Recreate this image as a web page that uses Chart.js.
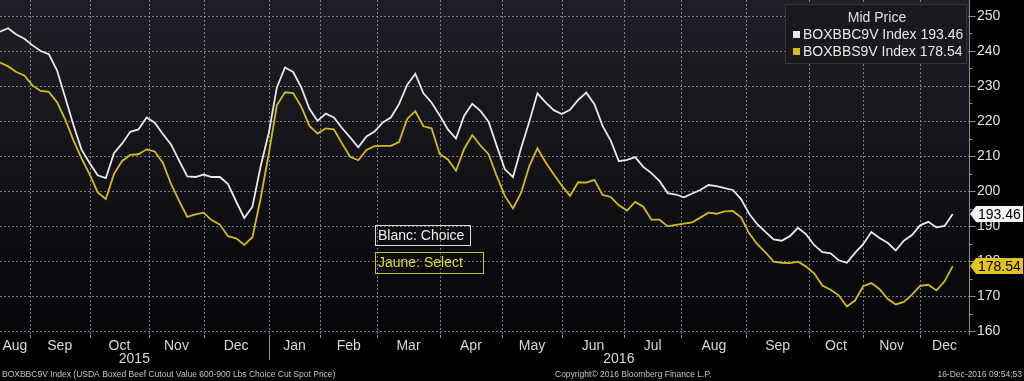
<!DOCTYPE html>
<html>
<head>
<meta charset="utf-8">
<script src="https://cdn.jsdelivr.net/npm/chart.js@4.4.0/dist/chart.umd.min.js"></script>
<style>
html,body{margin:0;padding:0;background:#000;}
canvas{display:block;}
</style>
</head>
<body>
<canvas id="c" width="1024" height="381"></canvas>
<script>
// ---- Data (trading-day index = position * stepDays, starting mid-Aug 2015) ----
const stepDays = 3;
const choiceName = 'BOXBBC9V Index';
const selectName = 'BOXBBS9V Index';
const choiceValues = [
  245.5,246.5,244.7,243.5,241.6,240.0,239.1,234.5,226.8,219.0,
  211.9,208.0,204.5,203.7,210.8,213.6,216.9,217.6,221.0,219.5,
  216.3,213.3,208.7,204.2,204.0,204.7,204.0,204.0,202.0,197.0,
  192.3,195.5,207.0,216.5,229.6,235.3,234.0,229.6,223.5,220.0,
  222.1,221.0,218.0,215.3,212.5,215.6,217.0,219.6,221.0,224.8,
  230.3,233.5,227.9,225.3,221.6,217.6,215.0,221.5,224.9,222.9,
  219.8,212.9,206.2,204.0,212.3,219.8,227.9,225.3,223.1,222.0,
  223.2,226.0,228.1,224.8,218.6,214.4,208.5,208.9,209.7,206.9,
  205.1,202.8,199.4,199.0,198.2,199.3,200.3,201.7,201.4,200.8,
  200.3,197.7,193.5,190.5,188.3,186.2,185.8,187.1,189.5,187.6,
  184.5,182.5,182.2,180.2,179.5,182.3,184.8,188.3,186.6,185.2,
  183.0,185.8,187.4,190.2,191.2,189.6,190.0,193.46
];
const selectValues = [
  236.7,235.6,234.0,233.0,230.1,228.6,228.3,225.4,220.5,214.6,
  209.4,204.8,199.6,197.7,204.9,208.6,210.3,210.5,211.9,211.3,
  208.1,202.0,197.2,192.6,193.3,193.8,191.7,190.4,187.1,186.5,
  184.6,186.8,197.8,210.5,224.5,228.2,228.0,224.1,218.6,216.4,
  217.9,217.6,213.6,209.8,208.8,211.7,212.8,212.9,212.9,214.0,
  220.6,222.8,218.5,217.9,210.6,209.0,205.8,212.0,216.0,213.0,
  210.5,204.3,198.6,195.0,199.5,207.1,212.2,208.2,204.8,201.5,
  198.6,202.5,202.4,203.2,198.9,198.3,195.9,194.4,196.9,195.5,
  191.8,191.8,189.9,190.3,190.7,191.0,192.4,193.8,193.5,194.2,
  194.3,192.5,187.9,184.8,182.5,179.8,179.5,179.4,179.8,178.4,
  176.4,173.0,171.8,170.2,167.0,168.7,172.8,173.7,172.0,169.2,
  167.6,168.3,170.4,172.9,173.2,171.6,174.2,178.54
];
// Month boundaries (trading-day index of the 1st of each month) and labels
const monthBoundaries = [11,33,55,75,99,118,139,162,185,207,230,251,275,298,318,339];
const monthLabels = ['Aug','Sep','Oct','Nov','Dec','Jan','Feb','Mar','Apr','May','Jun','Jul','Aug','Sep','Oct','Nov','Dec'];
const yearLabels = ['2015','2016'];
const xMin = 0, xMax = 357;
const yMin = 158.86, yMax = 254.57;
const yStep = 5, yLabelStep = 10;
const footerLeft = 'BOXBBC9V Index (USDA Boxed Beef Cutout Value 600-900 Lbs Choice Cut Spot Price)';
const footerMid = 'Copyright\u00A9 2016 Bloomberg Finance L.P.';
const footerRight = '16-Dec-2016 09:54:53';
const legendTitle = 'Mid Price';
const noteChoice = 'Blanc: Choice';
const noteSelect = 'Jaune: Select';

// ---- Styles ----
const FONT = "'Liberation Sans', Arial, sans-serif";
const WHITE = '#e8e8e8';
const YELLOW = '#d6b91c';
const GRID = 'rgba(165,165,175,0.7)';
const AXIS = '#8e8e8e';
Chart.defaults.font.family = FONT;

const edges = [xMin, ...monthBoundaries, xMax];
const monthMids = monthLabels.map((_, k) => (edges[k] + edges[k + 1]) / 2);
const labelAt = new Map(monthMids.map((v, k) => [v, monthLabels[k]]));
const boundarySet = new Set(monthBoundaries);
const janBoundary = monthBoundaries[monthLabels.indexOf('Jan') - 1];
const yearEdges = [xMin, janBoundary, xMax];
const allXTicks = [...monthBoundaries, ...monthMids].sort((a, b) => a - b);

const toPoints = arr => arr.map((v, i) => ({x: i * stepDays, y: v}));

const bgPlugin = {
  id: 'bg',
  beforeDraw(chart) {
    const {ctx, chartArea: a} = chart;
    ctx.save();
    ctx.fillStyle = '#000';
    ctx.fillRect(0, 0, chart.width, chart.height);
    const g = ctx.createLinearGradient(0, a.top, 0, a.bottom);
    g.addColorStop(0, '#1f1f27');
    g.addColorStop(1, '#050508');
    ctx.fillStyle = g;
    ctx.fillRect(a.left, a.top, a.right - a.left, a.bottom - a.top);
    ctx.restore();
  }
};

// Grid lines and tick marks, placed from the library's own scale ticks
const gridPlugin = {
  id: 'gridlines',
  beforeDatasetsDraw(chart) {
    const {ctx, chartArea: a, scales: {x, y}} = chart;
    ctx.save();
    ctx.lineWidth = 1;
    ctx.strokeStyle = GRID;
    ctx.setLineDash([2, 2]);
    ctx.beginPath();
    y.ticks.forEach(t => {
      if (Math.round(t.value) % yLabelStep !== 0) return;
      const py = Math.round(y.getPixelForValue(t.value)) + 0.5;
      ctx.moveTo(a.left, py); ctx.lineTo(a.right, py);
    });
    x.ticks.forEach(t => {
      if (!boundarySet.has(t.value)) return;
      const px = Math.round(x.getPixelForValue(t.value)) + 0.5;
      ctx.moveTo(px, a.top); ctx.lineTo(px, a.bottom);
    });
    ctx.stroke();
    ctx.setLineDash([]);
    ctx.strokeStyle = AXIS;
    ctx.beginPath();
    const ax = Math.round(a.right) + 0.5;
    ctx.moveTo(ax, a.top); ctx.lineTo(ax, a.bottom);
    y.ticks.forEach(t => {
      const py = Math.round(y.getPixelForValue(t.value)) + 0.5;
      const len = (Math.round(t.value) % yLabelStep === 0) ? 6 : 3;
      ctx.moveTo(ax, py); ctx.lineTo(ax + len, py);
    });
    x.ticks.forEach(t => {
      if (!boundarySet.has(t.value)) return;
      const px = Math.round(x.getPixelForValue(t.value)) + 0.5;
      ctx.moveTo(px, a.bottom); ctx.lineTo(px, a.bottom + 3);
    });
    ctx.stroke();
    ctx.restore();
  }
};

function tag(ctx, x0, yc, w, color, text) {
  ctx.beginPath();
  ctx.moveTo(x0, yc);
  ctx.lineTo(x0 + 6, yc - 8);
  ctx.lineTo(x0 + w, yc - 8);
  ctx.lineTo(x0 + w, yc + 8);
  ctx.lineTo(x0 + 6, yc + 8);
  ctx.closePath();
  ctx.fillStyle = color;
  ctx.fill();
  ctx.fillStyle = '#000';
  ctx.font = '14px ' + FONT;
  ctx.textAlign = 'left';
  ctx.textBaseline = 'middle';
  ctx.fillText(text, x0 + 8, yc + 1);
}

const overlayPlugin = {
  id: 'overlay',
  afterDraw(chart) {
    const {ctx, chartArea: a, scales: {x, y}} = chart;
    ctx.save();
    // Year boundary line
    const xb = Math.round(x.getPixelForValue(janBoundary)) + 0.5;
    ctx.strokeStyle = AXIS;
    ctx.lineWidth = 1;
    ctx.beginPath();
    ctx.moveTo(xb, a.bottom);
    ctx.lineTo(xb, a.bottom + 25);
    ctx.stroke();
    // Year labels
    ctx.fillStyle = '#d8d8d8';
    ctx.font = '14px ' + FONT;
    ctx.textAlign = 'center';
    ctx.textBaseline = 'middle';
    yearLabels.forEach((t, k) => {
      const cx = (x.getPixelForValue(yearEdges[k]) + x.getPixelForValue(yearEdges[k + 1])) / 2;
      ctx.fillText(t, cx, a.bottom + 24);
    });
    // Footer
    ctx.font = '8.5px ' + FONT;
    ctx.fillStyle = '#c4c4c4';
    ctx.textAlign = 'left';
    ctx.fillText(footerLeft, 2, 375);
    ctx.fillText(footerMid, 555, 375);
    ctx.textAlign = 'right';
    ctx.fillText(footerRight, 1022, 375);

    // Legend box
    ctx.fillStyle = 'rgba(24,24,29,0.96)';
    ctx.fillRect(785, 4, a.right - 787, 60);
    ctx.strokeStyle = 'rgba(60,60,68,0.8)';
    ctx.strokeRect(785.5, 4.5, a.right - 788, 59);
    ctx.font = '14px ' + FONT;
    ctx.fillStyle = '#e0e0e0';
    ctx.textAlign = 'center';
    ctx.fillText(legendTitle, 877, 18);
    ctx.textAlign = 'left';
    const lastC = choiceValues[choiceValues.length - 1];
    const lastS = selectValues[selectValues.length - 1];
    ctx.fillStyle = WHITE;
    ctx.fillRect(793, 31, 7, 7);
    ctx.fillText(choiceName + ' ' + lastC.toFixed(2), 803, 35);
    ctx.fillStyle = YELLOW;
    ctx.fillRect(793, 48, 7, 7);
    ctx.fillStyle = '#e8e8e8';
    ctx.fillText(selectName + ' ' + lastS.toFixed(2), 803, 52);

    // Notes
    ctx.strokeStyle = '#d8d8d8';
    ctx.strokeRect(375.5, 225.5, 95, 20);
    ctx.fillStyle = '#f0f0f0';
    ctx.fillText(noteChoice, 378, 236);
    ctx.strokeStyle = '#c9c21e';
    ctx.strokeRect(375.5, 252.5, 108, 21);
    ctx.fillStyle = '#e2da2a';
    ctx.fillText(noteSelect, 378, 263.5);

    // Last value tags
    tag(ctx, a.right + 1, y.getPixelForValue(lastC), 53, '#f4f4f4', lastC.toFixed(2));
    tag(ctx, a.right + 1, y.getPixelForValue(lastS), 53, '#e3c41e', lastS.toFixed(2));
    ctx.restore();
  }
};

new Chart(document.getElementById('c'), {
  type: 'line',
  data: {
    datasets: [
      {label: choiceName, data: toPoints(choiceValues), borderColor: WHITE, borderWidth: 1.8, pointRadius: 0, tension: 0},
      {label: selectName, data: toPoints(selectValues), borderColor: YELLOW, borderWidth: 1.8, pointRadius: 0, tension: 0}
    ]
  },
  options: {
    responsive: false,
    animation: false,
    devicePixelRatio: 1,
    layout: {padding: 0},
    plugins: {legend: {display: false}, tooltip: {enabled: false}},
    scales: {
      x: {
        type: 'linear',
        min: xMin, max: xMax,
        afterBuildTicks(scale) { scale.ticks = allXTicks.map(v => ({value: v})); },
        afterFit(scale) { scale.height = 46; scale.paddingLeft = 0; scale.paddingRight = 0; },
        ticks: {
          autoSkip: false, maxRotation: 0, padding: 3,
          color: '#d8d8d8', font: {size: 14},
          callback: v => labelAt.get(v) || ''
        },
        grid: {display: false, drawTicks: false},
        border: {display: false}
      },
      y: {
        type: 'linear',
        position: 'right',
        min: yMin, max: yMax,
        afterFit(scale) { scale.width = 55; scale.paddingTop = 0; scale.paddingBottom = 0; },
        ticks: {
          stepSize: yStep, includeBounds: false, autoSkip: false,
          padding: 8, color: '#e0e0e0', font: {size: 14},
          callback: v => (Math.round(v) % yLabelStep === 0 ? String(v) : '')
        },
        grid: {display: false, drawTicks: false},
        border: {display: false}
      }
    }
  },
  plugins: [bgPlugin, gridPlugin, overlayPlugin]
});
</script>
</body>
</html>
